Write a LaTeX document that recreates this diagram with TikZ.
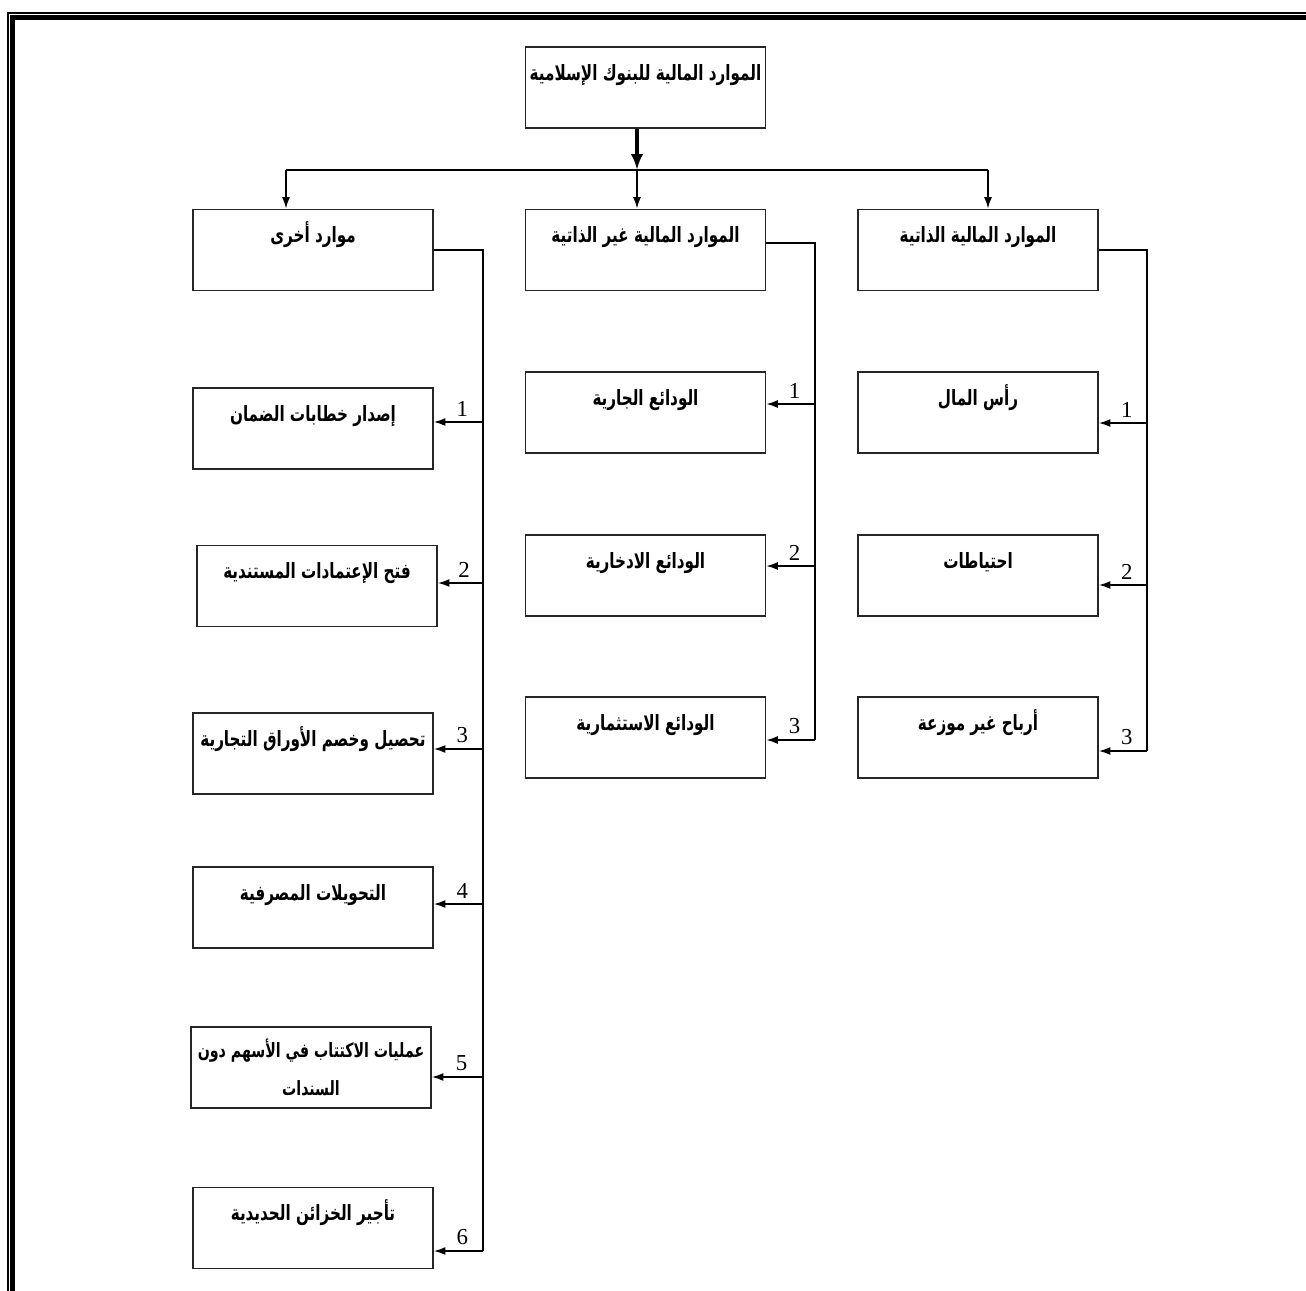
\documentclass[tikz,border=0pt]{standalone}
\usepackage{fontspec}
\setmainfont{Liberation Serif}
\newfontfamily\arabicfont[Script=Arabic, FakeStretch=0.72]{DejaVu Sans}
\TeXXeTstate=1
\usetikzlibrary{arrows.meta}
\newcommand{\artxt}[1]{\beginR #1\endR}
\tikzset{>={Latex[length=6.5pt,width=4.5pt]}}
\tikzset{
    block/.style = {draw=black!85, rectangle, line width=1.1pt,
        minimum width=4.8cm, minimum height=1.62cm,
        inner xsep=1pt, inner ysep=0pt,
        text height=0.66cm, text depth=0.96cm,
        font=\arabicfont\bfseries\fontsize{12}{22}\selectfont},
    twoline/.style = {text height={}, text depth={}, align=center,
        font=\arabicfont\bfseries\fontsize{11.2}{22}\selectfont},
    line/.style = {draw, line width=0.8pt},
    arrow/.style = {draw, ->, line width=0.8pt},
    thickarrow/.style = {draw, -{Latex[length=9pt,width=7pt]}, line width=2.8pt},
    num/.style = {above, pos=0.42, inner sep=3pt,
        font=\fontsize{13}{13}\selectfont}
}

\begin{document}
\begin{tikzpicture}[x=0.02cm, y=-0.02cm, auto]
    \useasboundingbox (0,0) rectangle (1306,1291);
    % frame round the page
    \draw [line width=0.8pt] (8,1291) -- (8,13) -- (1306,13);
    \draw [line width=2.8pt] (12.5,1291) -- (12.5,17.5) -- (1306,17.5);

    \node [block] (banks) at (645.5,87.5) {\artxt{الموارد المالية للبنوك الإسلامية}};
    \node [block] (other) at (313,250) {\artxt{موارد أخرى}};
    \node [block] (nonown) at (645.5,250) {\artxt{الموارد المالية غير الذاتية}};
    \node [block] (own) at (978,250) {\artxt{الموارد المالية الذاتية}};

    % own resources
    \node [block] (capital) at (978,412.5) {\artxt{رأس المال}};
    \node [block] (reserves) at (978,575.5) {\artxt{احتياطات}};
    \node [block] (profits) at (978,737.5) {\artxt{أرباح غير موزعة}};

    % deposits
    \node [block] (current) at (645.5,412.5) {\artxt{الودائع الجارية}};
    \node [block] (savings) at (645.5,575.5) {\artxt{الودائع الادخارية}};
    \node [block] (invest) at (645.5,737.5) {\artxt{الودائع الاستثمارية}};

    % other resources
    \node [block] (guarantee) at (313,428.5) {\artxt{إصدار خطابات الضمان}};
    \node [block] (credits) at (317,586) {\artxt{فتح الإعتمادات المستندية}};
    \node [block] (bills) at (313,753.5) {\artxt{تحصيل وخصم الأوراق التجارية}};
    \node [block] (transfers) at (313,907.5) {\artxt{التحويلات المصرفية}};
    \node [block, twoline] (shares) at (311,1067.5) {\artxt{عمليات الاكتتاب في الأسهم دون}\\\artxt{السندات}};
    \node [block] (safes) at (313,1228) {\artxt{تأجير الخزائن الحديدية}};

    % top split
    \coordinate (bus) at (637,170);
    \coordinate (busL) at (286,170);
    \coordinate (busR) at (988,170);
    \draw [thickarrow] (banks.south -| bus) -- (bus);
    \draw [line] (busL) -- (busR);
    \draw [arrow] (busL) -- (busL |- other.north);
    \draw [arrow] (bus) -- (bus |- nonown.north);
    \draw [arrow] (busR) -- (busR |- own.north);

    % right branch
    \coordinate (r1) at (1147,423);
    \coordinate (r2) at (1147,585);
    \coordinate (r3) at (1147,751);
    \draw [line] (own.east) -- (own.east -| r3) -- (r3);
    \draw [arrow] (r1) -- node [num] {1} (r1 -| capital.east);
    \draw [arrow] (r2) -- node [num] {2} (r2 -| reserves.east);
    \draw [arrow] (r3) -- node [num] {3} (r3 -| profits.east);

    % middle branch
    \coordinate (m0) at (815,243);
    \coordinate (m1) at (815,404);
    \coordinate (m2) at (815,566);
    \coordinate (m3) at (815,740);
    \draw [line] (m0 -| nonown.east) -- (m0) -- (m3);
    \draw [arrow] (m1) -- node [num] {1} (m1 -| current.east);
    \draw [arrow] (m2) -- node [num] {2} (m2 -| savings.east);
    \draw [arrow] (m3) -- node [num] {3} (m3 -| invest.east);

    % left branch
    \coordinate (l1) at (483,422);
    \coordinate (l2) at (483,583);
    \coordinate (l3) at (483,749);
    \coordinate (l4) at (483,904);
    \coordinate (l5) at (483,1077);
    \coordinate (l6) at (483,1251);
    \draw [line] (other.east) -- (other.east -| l6) -- (l6);
    \draw [arrow] (l1) -- node [num] {1} (l1 -| guarantee.east);
    \draw [arrow] (l2) -- node [num] {2} (l2 -| credits.east);
    \draw [arrow] (l3) -- node [num] {3} (l3 -| bills.east);
    \draw [arrow] (l4) -- node [num] {4} (l4 -| transfers.east);
    \draw [arrow] (l5) -- node [num] {5} (l5 -| shares.east);
    \draw [arrow] (l6) -- node [num] {6} (l6 -| safes.east);
\end{tikzpicture}
\end{document}
